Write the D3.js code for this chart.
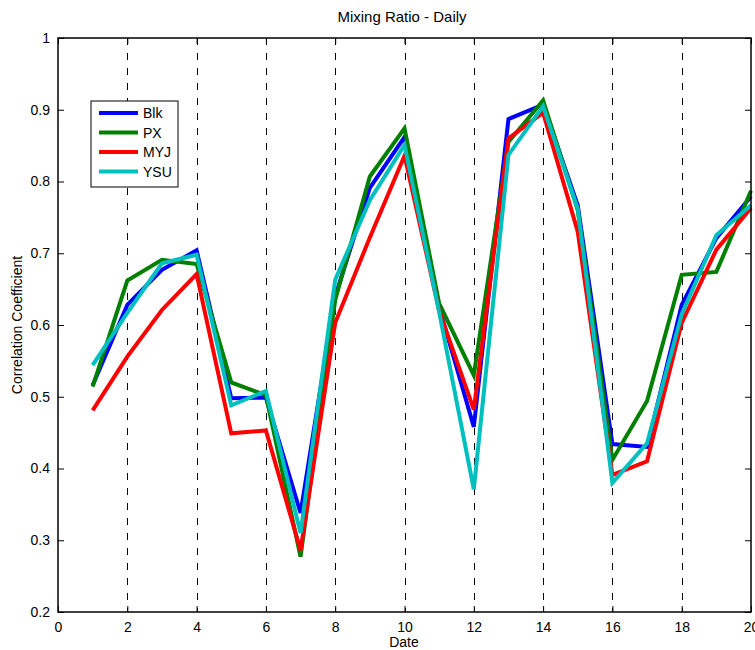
<!DOCTYPE html>
<html><head><meta charset="utf-8">
<script src="https://cdn.jsdelivr.net/npm/d3@7"></script>
<style>body{margin:0;background:#fff}svg{display:block}text{font-family:"Liberation Sans",Arial,sans-serif}</style>
</head><body>
<script>
const dates = [1,2,3,4,5,6,7,8,9,10,11,12,13,14,15,16,17,18,19,20];
const blk = [0.516,0.628,0.677,0.704,0.498,0.499,0.338,0.640,0.791,0.862,0.625,0.458,0.887,0.907,0.767,0.434,0.430,0.628,0.721,0.779];
const px  = [0.514,0.662,0.691,0.685,0.520,0.502,0.277,0.635,0.807,0.874,0.630,0.530,0.855,0.913,0.760,0.412,0.494,0.670,0.674,0.787];
const myj = [0.481,0.556,0.621,0.671,0.449,0.453,0.286,0.603,0.722,0.836,0.620,0.482,0.860,0.896,0.730,0.391,0.410,0.603,0.705,0.763];
const ysu = [0.544,0.617,0.686,0.698,0.488,0.508,0.310,0.663,0.774,0.851,0.618,0.371,0.837,0.905,0.762,0.380,0.435,0.615,0.725,0.767];
const seriesNames = ["Blk","PX","MYJ","YSU"];
const seriesColors = ["#0000ff","#008000","#ff0000","#00bfbf"];
const xTicks = [0,2,4,6,8,10,12,14,16,18,20];
const yTicks = [0.2,0.3,0.4,0.5,0.6,0.7,0.8,0.9,1];
const gridX = [2,4,6,8,10,12,14,16,18];

const W=755,H=650;
const L=58,R=751,T=38,B=612;
const svg=d3.select("body").append("svg").attr("width",W).attr("height",H);
const x=d3.scaleLinear().domain([0,20]).range([L,R]);
const y=d3.scaleLinear().domain([0.2,1]).range([B,T]);

// grid
svg.append("g").selectAll("line").data(gridX).join("line")
  .attr("x1",d=>Math.round(x(d))+0.5).attr("x2",d=>Math.round(x(d))+0.5).attr("y1",T).attr("y2",B)
  .attr("stroke","#000").attr("stroke-width",1).attr("stroke-dasharray","7,8");

// axes
const fs="14px";
const ax=svg.append("g").attr("transform",`translate(0,${B})`).call(d3.axisBottom(x).tickValues(xTicks).tickFormat(d3.format("d")).tickSizeInner(-6).tickSizeOuter(0).tickPadding(10));
const ay=svg.append("g").attr("transform",`translate(${L},0)`).call(d3.axisLeft(y).tickValues(yTicks).tickFormat(d=>d===1?"1":d3.format(".1f")(d)).tickSizeInner(-6).tickSizeOuter(0).tickPadding(8));
const at=svg.append("g").attr("transform",`translate(0,${T})`).call(d3.axisTop(x).tickValues(xTicks).tickFormat("").tickSizeInner(-6).tickSizeOuter(0));
const ar=svg.append("g").attr("transform",`translate(${R},0)`).call(d3.axisRight(y).tickValues(yTicks).tickFormat("").tickSizeInner(-6).tickSizeOuter(0));
[ax,ay,at,ar].forEach(g=>{g.selectAll("path").remove();g.selectAll("text").attr("font-size",fs).attr("fill","#000").attr("font-family","Liberation Sans, Arial, sans-serif");g.selectAll("line").attr("stroke","#000");});

// lines
const all=[blk,px,myj,ysu];
const line=d3.line().x((d,i)=>x(dates[i])).y(d=>y(d));
svg.append("g").selectAll("path").data(all).join("path")
  .attr("d",d=>line(d)).attr("fill","none").attr("stroke",(d,i)=>seriesColors[i])
  .attr("stroke-width",4).attr("stroke-linejoin","miter");

// frame
svg.append("rect").attr("x",L).attr("y",T).attr("width",R-L).attr("height",B-T)
  .attr("fill","none").attr("stroke","#000").attr("stroke-width",1.5);

// legend
const lg=svg.append("g");
lg.append("rect").attr("x",91).attr("y",101).attr("width",87).attr("height",86).attr("fill","#fff").attr("stroke","#000").attr("stroke-width",1);
seriesNames.forEach((n,i)=>{
  const yy=113+i*19.5;
  lg.append("line").attr("x1",99).attr("x2",138).attr("y1",yy).attr("y2",yy).attr("stroke",seriesColors[i]).attr("stroke-width",4);
  lg.append("text").attr("x",143).attr("y",yy+5).attr("font-size","14px").text(n);
});

// labels
svg.append("text").attr("x",402).attr("y",22).attr("text-anchor","middle").attr("font-size","15px").text("Mixing Ratio - Daily");
svg.append("text").attr("x",404).attr("y",647).attr("text-anchor","middle").attr("font-size","14px").text("Date");
svg.append("text").attr("transform","translate(22,325) rotate(-90)").attr("text-anchor","middle").attr("font-size","14px").text("Correlation Coefficient");
</script>
</body></html>
